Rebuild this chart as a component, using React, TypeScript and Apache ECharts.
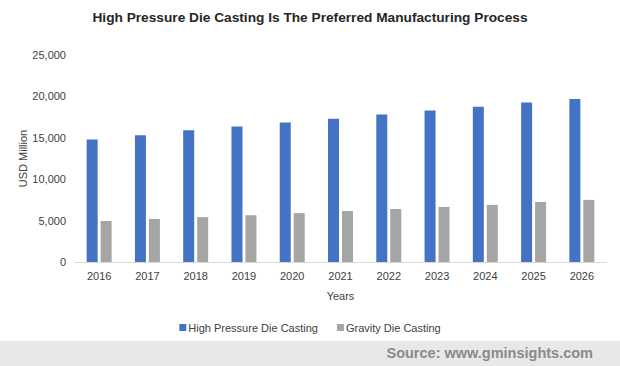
import React, { useEffect, useRef } from "react";
import * as echarts from "echarts";

const years = ["2016", "2017", "2018", "2019", "2020", "2021", "2022", "2023", "2024", "2025", "2026"];
const highPressure = [14800, 15300, 15900, 16350, 16850, 17300, 17800, 18300, 18750, 19250, 19700];
const gravity = [4950, 5200, 5420, 5660, 5900, 6150, 6400, 6650, 6900, 7250, 7500];
const seriesNames = ["High Pressure Die Casting", "Gravity Die Casting"];

export default function App() {
  const ref = useRef<HTMLDivElement>(null);
  useEffect(() => {
    const chart = echarts.init(ref.current!, null, { renderer: "svg" });
    chart.setOption({
      animation: false,
      backgroundColor: "#ffffff",
      textStyle: { fontFamily: "Liberation Sans, Arial, sans-serif" },
      title: {
        text: "High Pressure Die Casting Is The Preferred Manufacturing Process",
        left: "center",
        top: 5,
        textStyle: { fontSize: 13.7, fontWeight: "bold", color: "#262626", fontFamily: "Liberation Sans, Arial, sans-serif" },
      },
      legend: {
        data: seriesNames,
        left: "center",
        top: 317,
        itemWidth: 7,
        itemHeight: 7,
        itemGap: 19,
        icon: "rect",
        textStyle: { fontSize: 11, color: "#404040", padding: [0, 0, 0, -3] },
      },
      grid: { left: 75, right: 14, top: 55, bottom: 104 },
      xAxis: {
        type: "category",
        data: years,
        name: "Years",
        nameLocation: "middle",
        nameGap: 28,
        nameTextStyle: { fontSize: 11, color: "#404040" },
        axisLine: { lineStyle: { color: "#d9d9d9" } },
        axisTick: { show: false },
        axisLabel: { fontSize: 11, color: "#404040", margin: 8 },
      },
      yAxis: {
        type: "value",
        min: 0,
        max: 25000,
        interval: 5000,
        name: "USD Million",
        nameLocation: "middle",
        nameRotate: 90,
        nameGap: 47,
        nameMoveOverlap: false,
        nameTextStyle: { fontSize: 11, color: "#404040" },
        splitLine: { show: false },
        axisLine: { show: false },
        axisTick: { show: false },
        axisLabel: {
          fontSize: 11,
          color: "#404040",
          margin: 9,
          formatter: (v: number) => v.toLocaleString("en-US"),
        },
      },
      series: [
        {
          name: seriesNames[0],
          type: "bar",
          data: highPressure,
          barWidth: 11,
          barGap: "27%",
          itemStyle: { color: "#4472C4" },
        },
        {
          name: seriesNames[1],
          type: "bar",
          data: gravity,
          barWidth: 11,
          barGap: "27%",
          itemStyle: { color: "#A5A5A5" },
        },
      ],
      graphic: [
        {
          type: "rect",
          shape: { x: 0, y: 341, width: 620, height: 25 },
          style: { fill: "#e8e8e8" },
          silent: true,
        },
        {
          type: "text",
          x: 593,
          y: 353,
          style: {
            text: "Source: www.gminsights.com",
            fill: "#8a8a8a",
            font: "bold 14.5px Liberation Sans, Arial, sans-serif",
            textAlign: "right",
            textVerticalAlign: "middle",
          },
        },
      ],
    });
    return () => chart.dispose();
  }, []);
  return <div ref={ref} style={{ position: "fixed", left: 0, top: 0, width: 620, height: 366 }} />;
}
